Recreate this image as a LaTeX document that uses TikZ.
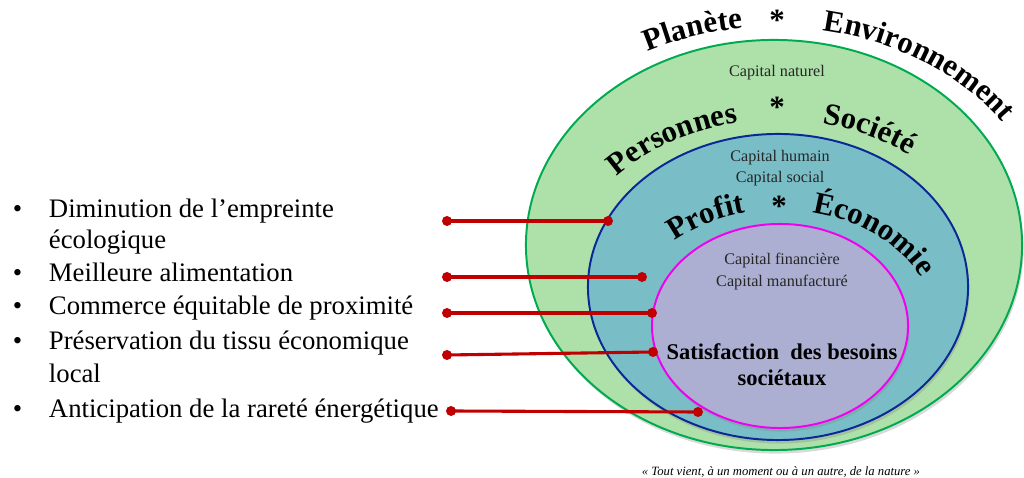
\documentclass[tikz,border=0pt]{standalone}
\usepackage{fontspec}
\setmainfont{Liberation Serif}
\usetikzlibrary{shapes.geometric,decorations.text,shadows}

\definecolor{planetfill}{RGB}{174,224,170}
\definecolor{planetline}{RGB}{0,170,80}
\definecolor{peoplefill}{RGB}{121,190,199}
\definecolor{peopleline}{RGB}{10,40,150}
\definecolor{profitfill}{RGB}{172,175,209}
\definecolor{profitline}{RGB}{240,0,240}
\definecolor{linkred}{RGB}{192,0,0}

\newcommand{\arcfont}{\bfseries\fontsize{22}{22}\selectfont}

\tikzset{
  sphere/.style={ellipse, inner sep=0pt, draw, line width=1.4pt,
    drop shadow={shadow xshift=1pt, shadow yshift=-2.5pt, opacity=0.3}},
  link/.style={draw=linkred, line width=2.2pt},
  capital/.style={font=\fontsize{11.5}{15}\selectfont, align=center, text=black!85},
  item/.style={anchor=base west, font=\fontsize{19}{22}\selectfont},
  star/.style={font=\arcfont},
  arctext/.style={decorate, decoration={text along path, text align=left, text={|\arcfont|#1}}}
}

\begin{document}
\begin{tikzpicture}[x=0.025cm, y=0.025cm]
    \useasboundingbox (0,0) rectangle (1024,478);

    % Nested spheres
    \node[sphere, fill=planetfill, draw=planetline, minimum width=12.4cm, minimum height=10.25cm] (planet) at (774,233) {};
    \node[sphere, fill=peoplefill, draw=peopleline, minimum width=9.5cm, minimum height=7.65cm] (people) at (778,191) {};
    \node[sphere, fill=profitfill, draw=profitline, minimum width=6.4cm, minimum height=5.1cm] (profit) at (780,152) {};

    % Curved titles
    \path[arctext=Planète] ([shift={(775,233)}]117.5:275 and 218) arc[start angle=117.5, end angle=40, x radius=275, y radius=218];
    \path[arctext=Environnement] ([shift={(775,233)}]80:275 and 218) arc[start angle=80, end angle=-20, x radius=275, y radius=218];
    \path[arctext=Personnes] ([shift={(778,191)}]138.5:215 and 167) arc[start angle=138.5, end angle=60, x radius=215, y radius=167];
    \path[arctext=Société] ([shift={(778,191)}]78:215 and 167) arc[start angle=78, end angle=0, x radius=215, y radius=167];
    \path[arctext=Profit] ([shift={(780,152)}]133:155 and 116) arc[start angle=133, end angle=70, x radius=155, y radius=116];
    \path[arctext=Économie] ([shift={(780,152)}]78:155 and 116) arc[start angle=78, end angle=-40, x radius=155, y radius=116];

    \node[star] (star1) at (777,458) {*};
    \node[star] (star2) at (777,371) {*};
    \node[star] (star3) at (779,272) {*};

    % Capitals
    \node[capital] (naturel) at (777,405) {Capital naturel};
    \node[capital] (humain) at (780,309.5) {Capital humain\\Capital social};
    \node[capital] (financier) at (782,206.5) {Capital financière\\Capital manufacturé};
    \node[align=center, font=\bfseries\fontsize{16}{18.5}\selectfont] (besoins) at (782,113) {Satisfaction\ \ des besoins\\sociétaux};

    % Bullet list
    \foreach \y in {260,196,163,128,60}
        \node[item] at (8,\y) {•};
    \node[item] (item1) at (44,260) {Diminution de l'empreinte};
    \node[item] (item1b) at (44,229) {écologique};
    \node[item] (item2) at (44,196) {Meilleure alimentation};
    \node[item] (item3) at (44,163) {Commerce équitable de proximité};
    \node[item] (item4) at (44,128) {Préservation du tissu économique};
    \node[item] (item4b) at (44,95) {local};
    \node[item] (item5) at (44,60) {Anticipation de la rareté énergétique};

    % Connectors
    \coordinate (s1) at (447,257); \coordinate (e1) at (608,257);
    \coordinate (s2) at (447,201); \coordinate (e2) at (642,201);
    \coordinate (s3) at (447,165); \coordinate (e3) at (652,165);
    \coordinate (s4) at (447,123); \coordinate (e4) at (653,126);
    \coordinate (s5) at (451,67);  \coordinate (e5) at (698,66);
    \foreach \i in {1,...,5} {
        \draw[link] (s\i) -- (e\i);
        \fill[linkred] (s\i) circle (5);
        \fill[linkred] (e\i) circle (5);
    }

    % Quote
    \node[anchor=base, font=\itshape\fontsize{9}{9}\selectfont] (motto) at (781,2) {« Tout vient, à un moment ou à un autre, de la nature »};
\end{tikzpicture}
\end{document}
